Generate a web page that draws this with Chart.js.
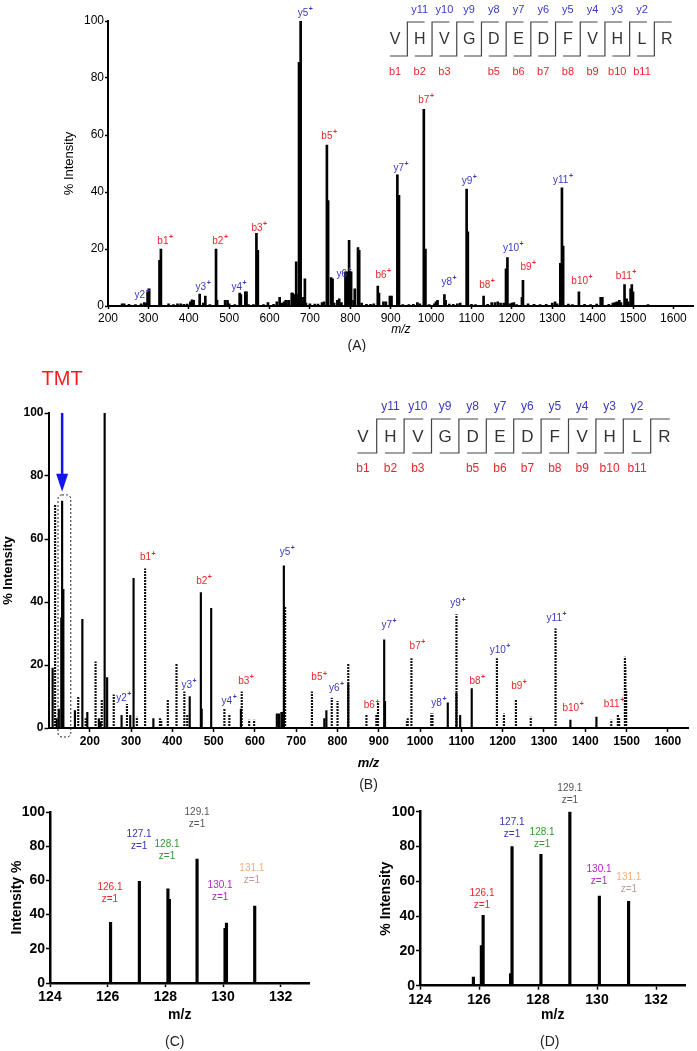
<!DOCTYPE html>
<html>
<head>
<meta charset="utf-8">
<script src="https://cdn.jsdelivr.net/npm/chart.js@4.4.1/dist/chart.umd.min.js"></script>
<style>
  html, body { margin: 0; padding: 0; background: #fff; }
  body { width: 697px; height: 1051px; position: relative; overflow: hidden; }
  .panel { position: absolute; }
</style>
</head>
<body>
<div class="panel" style="left:0;top:0;width:697px;height:352px"><canvas id="cA"></canvas></div>
<div class="panel" style="left:0;top:352px;width:697px;height:440px"><canvas id="cB"></canvas></div>
<div class="panel" style="left:0;top:770px;width:348px;height:281px"><canvas id="cC"></canvas></div>
<div class="panel" style="left:348px;top:770px;width:349px;height:281px"><canvas id="cD"></canvas></div>
<script>
// MS/MS spectra of VHVGDEDFVHLR (A: unlabelled, B: TMT labelled) + reporter ions (C, D)

const FONT = 'Arial, "Liberation Sans", Helvetica, sans-serif';
Chart.defaults.font.family = FONT;
Chart.defaults.color = '#000';
Chart.defaults.animation = false;
Chart.defaults.events = [];
Chart.defaults.plugins.legend.display = false;
Chart.defaults.plugins.tooltip.enabled = false;

// --- peptide sequence + fragment ion names ---
const peptide = ['V', 'H', 'V', 'G', 'D', 'E', 'D', 'F', 'V', 'H', 'L', 'R'];
const yIons = ['y11', 'y10', 'y9', 'y8', 'y7', 'y6', 'y5', 'y4', 'y3', 'y2'];
const bIons = ['b1', 'b2', 'b3', '', 'b5', 'b6', 'b7', 'b8', 'b9', 'b10', 'b11'];

// --- (A) spectrum ---
const aMz = [
  235, 240, 252, 268, 282, 290, 294, 298, 302, 327.5, 331, 350, 362, 372, 380, 388, 396, 404, 408, 412,
  427, 436, 441, 452, 467.5, 470, 490, 496, 500, 514, 526, 529, 540, 543, 548, 560, 567.5, 571, 585, 596,
  610, 618, 625, 630, 636, 640, 642, 648, 655, 657, 661, 666, 671, 673, 677, 682, 687.5, 690, 700, 712,
  720, 730, 735, 742, 745, 752.5, 756, 760, 768, 772.5, 778, 788, 792, 797, 800, 802, 808, 811, 819, 822,
  828, 840, 850, 858, 868, 871, 882, 888, 898, 902, 916.5, 920.5, 930, 945, 956, 966, 972, 982, 986, 995,
  1008, 1012, 1016, 1033, 1036, 1045, 1055, 1065, 1072, 1088, 1091, 1100, 1110, 1130, 1140, 1150, 1158, 1165, 1172, 1180,
  1185.5, 1189, 1195, 1200, 1205, 1212, 1225, 1227.5, 1240, 1255, 1270, 1285, 1300, 1307, 1312, 1320, 1324, 1327, 1340, 1350,
  1366, 1380, 1395, 1410, 1420, 1424, 1440, 1450, 1455, 1460, 1466, 1470, 1479, 1484, 1488, 1494, 1497, 1500, 1537
];
const aInt = [
  0.8, 0.8, 0.6, 0.5, 0.8, 1.2, 1.0, 5, 6, 16, 20, 0.8, 0.5, 0.8, 0.8, 0.6, 0.7, 1.5, 2.2, 2.0,
  4.2, 1, 3.5, 0.5, 20, 2, 2.0, 2, 0.8, 0.5, 4.5, 4, 5, 5, 0.5, 0.5, 25.5, 19.5, 0.5, 1.2,
  0.6, 1.5, 3, 1, 1.5, 2, 2, 2, 4.5, 4.5, 4, 15.5, 4, 85.5, 100, 3, 9.5, 1, 0.8, 0.7,
  0.7, 1.2, 1.5, 56.5, 37, 10, 9.5, 1, 2.0, 2.5, 1.2, 12, 12, 23, 12, 12, 2, 6, 20.5, 19.5,
  1, 0.6, 0.6, 0.8, 7, 4.5, 1.5, 1.5, 3.5, 3.5, 46, 38.8, 0.5, 0.5, 0.6, 1.2, 0.8, 69, 20, 0.5,
  0.8, 1.5, 2, 4, 2, 0.7, 0.6, 0.8, 1, 41, 26, 0.6, 0.5, 3.5, 0.6, 1.2, 1.2, 1.5, 1, 1,
  13, 17, 0.8, 1, 1.2, 0.5, 3, 9, 0.8, 0.6, 0.5, 0.6, 1, 1.5, 0.8, 15, 41.5, 21, 0.7, 0.5,
  5, 0.6, 0.5, 0.7, 3, 3, 0.6, 1, 1.2, 1.5, 2, 1.2, 7.5, 2.5, 1.5, 6, 7.5, 5, 0.5
];
const aLabelText = ['y2', 'b1', 'y3', 'b2', 'y4', 'b3', 'y5', 'b5', 'y6', 'b6', 'y7', 'b7', 'y8', 'y9', 'b8', 'y10', 'b9', 'y11', 'b10', 'b11'];
const aLabelMz = [279, 336, 430, 472, 519, 569, 683, 742, 779, 876, 920, 982, 1039, 1089, 1133, 1198, 1235, 1321, 1368, 1477];
const aLabelInt = [3.9, 22.8, 6.7, 22.8, 6.7, 27.4, 102.8, 59.6, 11.2, 10.9, 48.4, 72.3, 8.4, 43.9, 7.4, 20.4, 13.7, 44.2, 8.8, 10.5];

// --- (B) spectrum, solid sticks and dashed sticks ---
const bSolidMz = [110, 120, 125, 131, 133, 136, 164, 182, 194, 222, 226, 236, 242, 277, 298, 306, 354, 442, 469, 471,
  494, 566, 653, 658, 664, 667, 670, 768, 773, 826, 913, 915, 1067, 1088, 1097, 1125, 1364, 1427];
const bSolidInt = [19, 3, 6, 35, 72, 44, 5.5, 34.5, 5, 3, 2, 100, 16, 4, 4, 47.5, 3, 10, 43, 6,
  38, 6, 4.5, 4.5, 5, 5, 51.5, 3, 5.5, 14, 28, 8.5, 8, 11, 4, 12.5, 2.5, 3.5];
const bDashMz = [116, 172, 190, 214, 229, 258, 290, 314, 334, 370, 373, 389, 410, 429, 436, 526, 538, 568, 586, 598,
  673, 738, 786, 800, 826, 870, 894, 898, 968, 970, 979, 1027, 1030, 1088, 1186, 1203, 1232, 1268, 1328, 1463,
  1479, 1482, 1496, 1497, 1499];
const bDashInt = [71, 10, 3, 21, 9, 10.5, 7.5, 3.5, 50.5, 3, 2.5, 9, 20.5, 11.5, 4, 6, 4, 11.5, 2.5, 2.5,
  38.5, 11.5, 9.5, 8.5, 20.5, 4, 4, 8.5, 2, 3, 22, 4.5, 4.5, 36, 22, 4.5, 9, 3.5, 31.5, 2.5,
  4, 3, 22.5, 20, 12];
const bLabelText = ['y2', 'b1', 'y3', 'b2', 'y4', 'b3', 'y5', 'b5', 'y6', 'b6', 'y7', 'b7', 'y8', 'y9', 'b8', 'y10', 'b9', 'y11', 'b10', 'b11'];
const bLabelMz = [277, 335, 435, 471, 532, 573, 673, 750, 792, 877, 919, 988, 1040, 1086, 1133, 1188, 1234, 1325, 1365, 1464];
const bLabelInt = [9.4, 54.1, 13.7, 46.5, 8.4, 14.8, 55.9, 16.0, 12.6, 7.1, 32.6, 26.1, 7.9, 39.5, 14.9, 24.6, 13.2, 35.0, 6.3, 7.5];

// --- (C) and (D) TMT reporter region ---
const reporterNames = ['126.1', '127.1', '128.1', '129.1', '130.1', '131.1'];
const reporterColors = ['#e8262b', '#3434b4', '#2f9a2f', '#555555', '#b424c8', '#f0b07c'];
const cMz = [126.1, 127.1, 128.09, 128.14, 129.1, 130.07, 130.12, 131.1];
const cInt = [35.5, 59.5, 55, 49, 72.5, 32, 35, 45];
const cLabelMz = [126.08, 127.09, 128.06, 129.1, 129.9, 131.0];
const cLabelInt = [56, 87, 81, 100, 57, 67];
const dMz = [125.81, 126.08, 126.14, 127.07, 127.12, 128.1, 129.08, 130.08, 131.07];
const dInt = [5, 23, 40.5, 7, 80, 75.5, 100, 51.5, 48.5];
const dLabelMz = [126.1, 127.12, 128.14, 129.08, 130.07, 131.08];
const dLabelInt = [53, 94, 88, 113.5, 67, 62.5];

// ---------------------------------
// helpers
// ---------------------------------
function pts(xs, ys) { return xs.map((x, i) => ({ x, y: ys[i] })); }

function dashPattern() {
  const c = document.createElement('canvas');
  c.width = 2; c.height = 3;
  const g = c.getContext('2d');
  g.fillStyle = '#111';
  g.fillRect(0, 0, 2, 2);
  return g.createPattern(c, 'repeat');
}

function ionLabel(ctx, text, x, y, size) {
  ctx.font = `${size}px ${FONT}`;
  ctx.fillStyle = text[0] === 'y' ? '#3a3ac0' : '#e8262b';
  ctx.textAlign = 'center';
  ctx.textBaseline = 'middle';
  ctx.fillText(text, x, y);
  const w = ctx.measureText(text).width;
  ctx.font = `bold ${size - 3}px ${FONT}`;
  ctx.textAlign = 'left';
  ctx.fillText('+', x + w / 2 + 0.5, y - 4);
}

function drawPeptide(ctx, p) {
  const n = peptide.length;
  ctx.strokeStyle = '#444';
  ctx.lineWidth = 1.2;
  for (let i = 0; i < n - 1; i++) {
    const gx = p.x0 + (i + 0.5) * p.dx;
    ctx.beginPath();
    ctx.moveTo(gx - p.dx * 0.7, p.bot);
    ctx.lineTo(gx, p.bot);
    ctx.lineTo(gx, p.top);
    ctx.lineTo(gx + p.dx * 0.7, p.top);
    ctx.stroke();
  }
  ctx.textAlign = 'center';
  ctx.textBaseline = 'middle';
  peptide.forEach((aa, i) => {
    const x = p.x0 + i * p.dx;
    ctx.fillStyle = '#fff';
    ctx.fillRect(x - p.dx * 0.3, p.letterY - p.size * 0.45, p.dx * 0.6, p.size * 0.9);
    ctx.fillStyle = '#333';
    ctx.font = `${p.size}px ${FONT}`;
    ctx.fillText(aa, x, p.letterY);
  });
  ctx.font = `${p.labelSize}px ${FONT}`;
  ctx.fillStyle = '#3a3ac0';
  yIons.forEach((t, i) => ctx.fillText(t, p.x0 + (i + 1) * p.dx, p.yLabelY));
  ctx.fillStyle = '#e8262b';
  bIons.forEach((t, i) => ctx.fillText(t, p.x0 + i * p.dx, p.bLabelY));
}

// annotation plugin: ion labels, peptide map, TMT marker, reporter labels, panel letter
const decor = {
  id: 'decor',
  afterDraw(chart, args, o) {
    const ctx = chart.ctx, xs = chart.scales.x, ys = chart.scales.y, ca = chart.chartArea;
    ctx.save();
    if (o.ions) {
      o.ions.text.forEach((t, i) =>
        ionLabel(ctx, t, xs.getPixelForValue(o.ions.mz[i]), ys.getPixelForValue(o.ions.int[i]), o.ions.size));
    }
    if (o.reporters) {
      ctx.textAlign = 'center';
      ctx.textBaseline = 'middle';
      ctx.font = `10px ${FONT}`;
      reporterNames.forEach((t, i) => {
        const x = xs.getPixelForValue(o.reporters.mz[i]);
        const y = ys.getPixelForValue(o.reporters.int[i]);
        ctx.fillStyle = reporterColors[i];
        ctx.fillText(t, x, y);
        ctx.fillStyle = i === 5 ? '#c49a9a' : reporterColors[i];
        ctx.fillText('z=1', x, y + 12);
      });
    }
    if (o.peptide) drawPeptide(ctx, o.peptide);
    if (o.tmt) {
      const x = xs.getPixelForValue(o.tmt.mz);
      const yTop = ys.getPixelForValue(100);
      const yTip = ys.getPixelForValue(o.tmt.tip);
      ctx.fillStyle = '#ff1a1a';
      ctx.font = `20px ${FONT}`;
      ctx.textAlign = 'center';
      ctx.textBaseline = 'middle';
      ctx.fillText('TMT', x, o.tmt.textY);
      ctx.strokeStyle = '#1414f0';
      ctx.fillStyle = '#1414f0';
      ctx.lineWidth = 2.5;
      ctx.beginPath();
      ctx.moveTo(x, yTop);
      ctx.lineTo(x, yTip - 14);
      ctx.stroke();
      ctx.beginPath();
      ctx.moveTo(x - 6, yTip - 18);
      ctx.lineTo(x + 6, yTip - 18);
      ctx.lineTo(x, yTip);
      ctx.closePath();
      ctx.fill();
      // dashed box round the reporter region
      const x0 = xs.getPixelForValue(o.tmt.box[0]), x1 = xs.getPixelForValue(o.tmt.box[1]);
      const y0 = ys.getPixelForValue(o.tmt.box[2]), y1 = ys.getPixelForValue(0) + 9;
      ctx.strokeStyle = '#222';
      ctx.lineWidth = 1;
      ctx.setLineDash([2, 2]);
      ctx.beginPath();
      ctx.roundRect(x0, y0, x1 - x0, y1 - y0, 4);
      ctx.stroke();
      ctx.setLineDash([]);
    }
    if (o.panel) {
      ctx.fillStyle = '#222';
      ctx.font = `14px ${FONT}`;
      ctx.textAlign = 'center';
      ctx.textBaseline = 'middle';
      ctx.fillText(o.panel.text, (ca.left + ca.right) / 2 + (o.panel.dx || 0), o.panel.y);
    }
    ctx.restore();
  }
};

function spectrumChart(id, cfg) {
  const gridOpts = { display: true, offset: false, drawOnChartArea: false, drawTicks: true,
                     tickLength: cfg.tickLen, tickColor: '#000', tickWidth: 1.5 };
  return new Chart(document.getElementById(id), {
    type: 'bar',
    data: { datasets: cfg.datasets },
    options: {
      responsive: true,
      maintainAspectRatio: false,
      layout: { padding: cfg.padding },
      scales: {
        x: {
          type: 'linear',
          offset: false,
          min: cfg.x.min, max: cfg.x.max,
          afterFit: s => { s.height = cfg.x.height; },
          afterBuildTicks: s => { s.ticks = cfg.x.ticks.map(v => ({ value: v })); },
          ticks: { font: cfg.tickFont, padding: cfg.x.pad, maxRotation: 0, autoSkip: false,
                   callback: v => String(v) },
          grid: gridOpts,
          border: { display: true, color: '#000', width: cfg.axisWidth },
          title: { display: true, text: cfg.x.title, font: cfg.x.titleFont, padding: { top: 0, bottom: cfg.x.titlePad } }
        },
        y: {
          min: 0, max: 100,
          afterFit: s => { s.width = cfg.y.width; },
          ticks: { stepSize: 20, font: cfg.tickFont, padding: 1, callback: v => String(v) },
          grid: gridOpts,
          border: { display: true, color: '#000', width: cfg.axisWidth },
          title: { display: true, text: cfg.y.title, font: cfg.y.titleFont, padding: { top: cfg.y.titlePad, bottom: 0 } }
        }
      },
      plugins: { decor: cfg.decor }
    },
    plugins: [decor]
  });
}

function sticks(data, color, thick) {
  return { data, backgroundColor: color, barThickness: thick, grouped: false, borderWidth: 0 };
}

const range = (a, b, s) => { const r = []; for (let v = a; v <= b; v += s) r.push(v); return r; };

// (A)
spectrumChart('cA', {
  datasets: [sticks(pts(aMz, aInt), '#000', 2)],
  padding: { left: 58, right: 3.4, top: 21, bottom: 10 },
  tickFont: { size: 12 }, tickLen: 3, axisWidth: 2,
  x: { min: 200, max: 1650, ticks: range(200, 1600, 100), height: 36, pad: 2,
       title: 'm/z', titleFont: { size: 12, style: 'italic' }, titlePad: 5 },
  y: { width: 50, title: '% Intensity', titleFont: { size: 13 }, titlePad: 4 },
  decor: {
    ions: { text: aLabelText, mz: aLabelMz, int: aLabelInt, size: 10 },
    peptide: { x0: 395, dx: 24.7, size: 16, labelSize: 11, letterY: 40, yLabelY: 10, bLabelY: 72, top: 22, bot: 56 },
    panel: { text: '(A)', y: 346, dx: -44 }
  }
});

// (B)
spectrumChart('cB', {
  datasets: [
    sticks(pts(bSolidMz, bSolidInt), '#000', 1.5),
    sticks(pts(bDashMz, bDashInt), dashPattern(), 1.5)
  ],
  padding: { left: 0, right: 8.5, top: 61, bottom: 18 },
  tickFont: { size: 12, weight: 'bold' }, tickLen: 4, axisWidth: 2,
  x: { min: 100, max: 1650, ticks: range(200, 1600, 100), height: 46, pad: 2,
       title: 'm/z', titleFont: { size: 13, weight: 'bold', style: 'italic' }, titlePad: 3 },
  y: { width: 48.5, title: '% Intensity', titleFont: { size: 13, weight: 'bold' }, titlePad: 1 },
  decor: {
    ions: { text: bLabelText, mz: bLabelMz, int: bLabelInt, size: 10 },
    peptide: { x0: 363, dx: 27.4, size: 17, labelSize: 12, letterY: 85, yLabelY: 55, bLabelY: 117, top: 67, bot: 101 },
    tmt: { mz: 133, tip: 75, textY: 27, box: [123, 154, 74] },
    panel: { text: '(B)', y: 433 }
  }
});

// (C)
spectrumChart('cC', {
  datasets: [sticks(pts(cMz, cInt), '#000', 2.5)],
  padding: { left: 0, right: 38.5, top: 42, bottom: 26 },
  tickFont: { size: 14, weight: 'bold' }, tickLen: 4, axisWidth: 2.5,
  x: { min: 124, max: 133, ticks: range(124, 132, 2), height: 42, pad: 2,
       title: 'm/z', titleFont: { size: 14, weight: 'bold' }, titlePad: 1.6 },
  y: { width: 50, title: 'Intensity %', titleFont: { size: 14, weight: 'bold' }, titlePad: 9 },
  decor: {
    reporters: { mz: cLabelMz, int: cLabelInt },
    panel: { text: '(C)', y: 272, dx: -5 }
  }
});

// (D)
spectrumChart('cD', {
  datasets: [sticks(pts(dMz, dInt), '#000', 2.5)],
  padding: { left: 0, right: 11.5, top: 41.7, bottom: 25.3 },
  tickFont: { size: 14, weight: 'bold' }, tickLen: 4, axisWidth: 2.5,
  x: { min: 124, max: 133, ticks: range(124, 132, 2), height: 40, pad: 2,
       title: 'm/z', titleFont: { size: 14, weight: 'bold' }, titlePad: 2.3 },
  y: { width: 72, title: '% Intensity', titleFont: { size: 14, weight: 'bold' }, titlePad: 30 },
  decor: {
    reporters: { mz: dLabelMz, int: dLabelInt },
    panel: { text: '(D)', y: 272, dx: -3 }
  }
});
</script>
</body>
</html>
